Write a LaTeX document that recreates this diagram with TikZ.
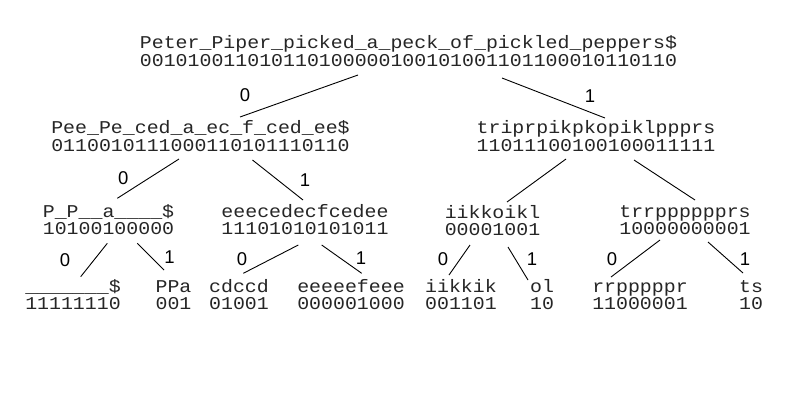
\documentclass[tikz,border=0pt]{standalone}
\usepackage{fontspec}
\usetikzlibrary{calc}
\newfontfamily\monof[FakeStretch=1.105]{Liberation Mono}
\newfontfamily\sansf{Liberation Sans}
\begin{document}
\begin{tikzpicture}[x=1pt,y=-1pt,
  seq/.style={anchor=base,inner sep=0pt,text=black!85,font=\fontsize{18}{20}\monof},
  bit/.style={anchor=center,inner sep=0pt,font=\fontsize{18.5}{20}\sansf},
  edge/.style={draw=black,line width=0.9pt}]
\useasboundingbox[fill=white] (0,0) rectangle (795,400);
% root
\node[seq] (r)  at (408.5,48.5) {Peter\_Piper\_picked\_a\_peck\_of\_pickled\_peppers\$};
\node[seq] (rb) at (408.5,66)   {001010011010110100000100101001101100010110110};
% level 1
\node[seq] (l)  at (200.5,133.5) {Pee\_Pe\_ced\_a\_ec\_f\_ced\_ee\$};
\node[seq] (lb) at (200.5,151)   {0110010111000110101110110};
\node[seq] (q)  at (596,133.5)   {triprpikpkopiklppprs};
\node[seq] (qb) at (596,151)     {11011100100100011111};
% level 2
\node[seq] (ll)  at (108.5,217)  {P\_P\_\_a\_\_\_\_\$};
\node[seq] (llb) at (108.5,234.5){10100100000};
\node[seq] (lr)  at (305,217)    {eeecedecfcedee};
\node[seq] (lrb) at (305,234.5)  {11101010101011};
\node[seq] (ql)  at (492.5,218)  {iikkoikl};
\node[seq] (qlb) at (492.5,235.5){00001001};
\node[seq] (qr)  at (685,217)    {trrpppppprs};
\node[seq] (qrb) at (685,234.5)  {10000000001};
% level 3
\node[seq] (lll)  at (73,292)    {\_\_\_\_\_\_\_\$};
\node[seq] (lllb) at (73,309.5)  {11111110};
\node[seq] (llr)  at (173.5,292) {PPa};
\node[seq] (llrb) at (173.5,309.5){001};
\node[seq] (lrl)  at (239,292)   {cdccd};
\node[seq] (lrlb) at (239,309.5) {01001};
\node[seq] (lrr)  at (351,292)   {eeeeefeee};
\node[seq] (lrrb) at (351,309.5) {000001000};
\node[seq] (qll)  at (461,292)   {iikkik};
\node[seq] (qllb) at (461,309.5) {001101};
\node[seq] (qlr)  at (542,292)   {ol};
\node[seq] (qlrb) at (542,309.5) {10};
\node[seq] (qrl)  at (640,292)   {rrpppppr};
\node[seq] (qrlb) at (640,309.5) {11000001};
\node[seq] (qrr)  at (751,292)   {ts};
\node[seq] (qrrb) at (751,309.5) {10};
% connectors
\draw[edge] ($(rb.base)+(-50.5,9)$) -- ($(l.base)+(39.5,-16.5)$);
\draw[edge] ($(rb.base)+(93.5,12)$) -- ($(q.base)+(9,-15.5)$);
\draw[edge] ($(lb.base)+(-21.5,8)$) -- ($(ll.base)+(8.8,-18.7)$);
\draw[edge] ($(lb.base)+(52,9)$) -- ($(lr.base)+(-2,-17)$);
\draw[edge] ($(qb.base)+(-30,8)$) -- ($(ql.base)+(14.5,-16)$);
\draw[edge] ($(qb.base)+(38,9)$) -- ($(qr.base)+(10,-17)$);
\draw[edge] ($(llb.base)+(-1.2,8.8)$) -- ($(lll.base)+(7.7,-15.3)$);
\draw[edge] ($(llb.base)+(28.8,8.8)$) -- ($(llr.base)+(-9.5,-22)$);
\draw[edge] ($(lrb.base)+(-6.7,10.5)$) -- ($(lrl.base)+(4.3,-18.7)$);
\draw[edge] ($(lrb.base)+(16.7,10.5)$) -- ($(lrr.base)+(10.7,-18.7)$);
\draw[edge] ($(qlb.base)+(-22.5,9.5)$) -- ($(qll.base)+(-12,-17)$);
\draw[edge] ($(qlb.base)+(15.5,11.5)$) -- ($(qlr.base)+(-14,-12)$);
\draw[edge] ($(qrb.base)+(-25,5.5)$) -- ($(qrl.base)+(-29,-15)$);
\draw[edge] ($(qrb.base)+(23,7.5)$) -- ($(qrr.base)+(-8,-19)$);
% edge labels
\node[bit] (e1) at (245,95) {0};
\node[bit] (e2) at (590,96) {1};
\node[bit] (e3) at (123.3,177.7) {0};
\node[bit] (e4) at (305,180) {1};
\node[bit] (e5) at (65,260) {0};
\node[bit] (e6) at (169.5,257) {1};
\node[bit] (e7) at (242,259) {0};
\node[bit] (e8) at (361,258) {1};
\node[bit] (e9) at (443,259) {0};
\node[bit] (e10) at (532,259) {1};
\node[bit] (e11) at (612,259) {0};
\node[bit] (e12) at (745,259) {1};
\end{tikzpicture}
\end{document}
